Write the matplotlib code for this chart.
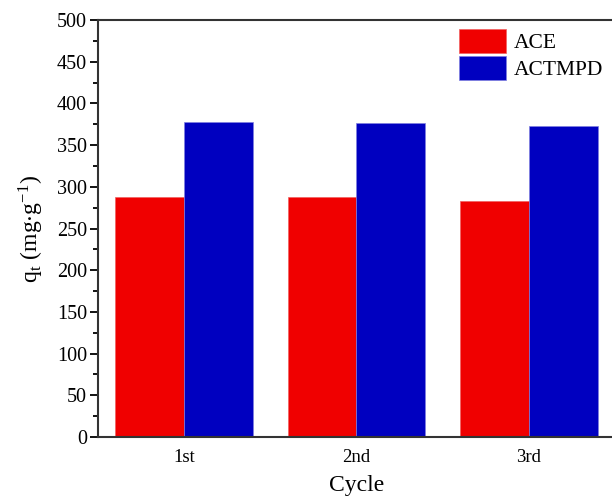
import numpy as np
import matplotlib.pyplot as plt

plt.rcParams['font.family'] = ['Liberation Serif', 'DejaVu Serif']
plt.rcParams['mathtext.fontset'] = 'stix'

cycles = ['1st', '2nd', '3rd']
ace = [288, 288, 283]
actmpd = [378, 376, 373]


def main():
    fig = plt.figure(figsize=(6.12, 5.0), dpi=100)
    ax = fig.add_axes([98 / 612, 63 / 500, 517 / 612, 417 / 500])

    x = np.arange(len(cycles))
    w = 0.4
    ax.bar(x - w / 2, ace, w, color='#F00000', edgecolor='#F06060', linewidth=0.5, label='ACE')
    ax.bar(x + w / 2, actmpd, w, color='#0000C0', edgecolor='#8080E0', linewidth=0.5, label='ACTMPD')

    ax.set_xlim(-0.5, 2.5)
    ax.set_ylim(0, 500)
    ax.set_xticks(x)
    ax.set_xticklabels(cycles)
    ax.set_yticks(np.arange(0, 501, 50))
    ax.set_yticks(np.arange(25, 500, 50), minor=True)
    ax.tick_params(axis='x', length=0, pad=9, labelsize=13.5)
    ax.tick_params(axis='y', which='major', direction='out', length=6, width=1.3, labelsize=14.5, pad=2)
    ax.tick_params(axis='y', which='minor', direction='out', length=3.5, width=1.3)
    for s in ax.spines.values():
        s.set_linewidth(1.5)
        s.set_color('#333333')

    ax.set_xlabel('Cycle', fontsize=17, labelpad=6)
    ax.set_ylabel(r'q$_\mathregular{t}$ (mg$\cdot$g$^\mathregular{-1}$)', fontsize=17, labelpad=8)

    ax.legend(loc='upper left', bbox_to_anchor=(352 / 517, 1.0), frameon=False,
              fontsize=15.5, handlelength=2.2, handleheight=1.4, handletextpad=0.35,
              labelspacing=0.1, borderaxespad=0.1, borderpad=0.3)

    fig.savefig('out.png', dpi=100)
    plt.close(fig)


if __name__ == '__main__':
    main()
